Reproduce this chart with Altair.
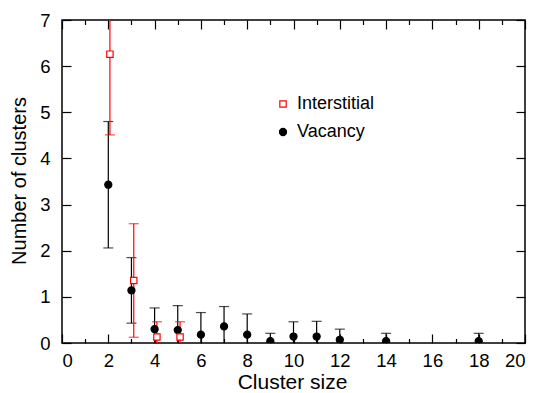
import altair as alt
import pandas as pd

# Vacancy clusters: size, mean count, error
vac_size = [2, 3, 4, 5, 6, 7, 8, 9, 10, 11, 12, 14, 18]
vac_count = [3.43, 1.14, 0.30, 0.28, 0.18, 0.36, 0.18, 0.04, 0.14, 0.14, 0.07, 0.04, 0.04]
vac_err = [1.37, 0.71, 0.46, 0.53, 0.48, 0.43, 0.45, 0.17, 0.32, 0.33, 0.23, 0.17, 0.17]

# Interstitial clusters (slightly shifted in size so bars don't overlap)
int_size = [2.07, 3.1, 4.1, 5.1]
int_count = [6.26, 1.355, 0.13, 0.13]
int_err = [1.75, 1.23, 0.33, 0.33]

series_names = ["Interstitial", "Vacancy"]
x_major = list(range(0, 21, 2))
x_minor = list(range(1, 20, 2))
y_major = list(range(0, 8))

W, H = 463, 323
FONT = "Liberation Sans"


def frame(sizes, counts, errs, name):
    df = pd.DataFrame({"size": sizes, "count": counts, "err": errs})
    df["lo"] = df["count"] - df["err"]
    df["hi"] = df["count"] + df["err"]
    df["series"] = name
    return df


vac = frame(vac_size, vac_count, vac_err, "Vacancy")
inter = frame(int_size, int_count, int_err, "Interstitial")
points = pd.concat([vac, inter], ignore_index=True)

xs = alt.Scale(domain=[0, 20], nice=False, zero=False)
ys = alt.Scale(domain=[0, 7], nice=False, zero=False)

x_label_axis = alt.Axis(
    values=x_major, ticks=False, tickSize=0, domain=False, grid=False,
    labelFontSize=18.5, labelPadding=8, labelFont=FONT, labelColor="black",
    title="Cluster size", titleFontSize=21, titleFont=FONT, titleFontWeight="normal",
    titleColor="black", titleX=230, titleY=45.5, titleBaseline="alphabetic",
)
y_label_axis = alt.Axis(
    values=y_major, ticks=False, tickSize=0, domain=False, grid=False,
    labelFontSize=18.5, labelPadding=12, labelFont=FONT, labelColor="black",
    title="Number of clusters", titleFontSize=20, titleFont=FONT,
    titleFontWeight="normal", titleColor="black", titleX=-37, titleY=160.5,
    titleAngle=-90, titleBaseline="alphabetic", titleAlign="center",
)


def tick_axis(orient, values, size, offset):
    return alt.Axis(
        orient=orient, offset=offset, values=values, tickSize=size,
        tickWidth=1.2, tickColor="black", labels=False, domain=False,
        grid=False, title=None,
    )


def error_bars(df, color, label_axes=False):
    xa = x_label_axis if label_axes else None
    ya = y_label_axis if label_axes else None
    rule = alt.Chart(df).mark_rule(color=color, strokeWidth=1.2, clip=True).encode(
        x=alt.X("size:Q", scale=xs, axis=xa),
        y=alt.Y("lo:Q", scale=ys, axis=ya),
        y2="hi:Q",
    )
    caps = [
        alt.Chart(df).mark_tick(
            orient="horizontal", color=color, size=10, thickness=1.2, clip=True
        ).encode(
            x=alt.X("size:Q", scale=xs, axis=None),
            y=alt.Y(f"{end}:Q", scale=ys, axis=None),
        )
        for end in ("lo", "hi")
    ]
    return [rule] + caps


legend = alt.Legend(
    orient="none", legendX=212, legendY=75, title=None, padding=0,
    labelFontSize=18, labelFont=FONT, labelColor="black", labelOffset=5,
    symbolStrokeWidth=1.2, rowPadding=10,
)

markers = alt.Chart(points).mark_point(filled=False, opacity=1, strokeWidth=1.2, clip=True).encode(
    x=alt.X("size:Q", scale=xs, axis=None),
    y=alt.Y("count:Q", scale=ys, axis=None),
    shape=alt.Shape("series:N", scale=alt.Scale(domain=series_names, range=["square", "circle"]), legend=legend),
    fill=alt.Fill("series:N", scale=alt.Scale(domain=series_names, range=["white", "black"]), legend=legend),
    stroke=alt.Stroke("series:N", scale=alt.Scale(domain=series_names, range=["#ff0000", "black"]), legend=legend),
    size=alt.Size("series:N", scale=alt.Scale(domain=series_names, range=[40, 50]), legend=legend),
)

# invisible layers that carry the inward-pointing tick marks on all four sides
dummy = alt.Chart(vac).mark_point(opacity=0)
tick_layers = [
    dummy.encode(
        x=alt.X("size:Q", scale=xs, axis=tick_axis("top", x_major, 9, -H)),
        y=alt.Y("count:Q", scale=ys, axis=tick_axis("right", y_major, 9, -W)),
    ),
    dummy.encode(
        x=alt.X("size:Q", scale=xs, axis=tick_axis("top", x_minor, 4.5, -H)),
        y=alt.Y("count:Q", scale=ys, axis=tick_axis("left", y_major, 9, -W)),
    ),
    dummy.encode(
        x=alt.X("size:Q", scale=xs, axis=tick_axis("bottom", x_major, 9, -H)),
        y=alt.Y("count:Q", scale=ys, axis=None),
    ),
    dummy.encode(
        x=alt.X("size:Q", scale=xs, axis=tick_axis("bottom", x_minor, 4.5, -H)),
        y=alt.Y("count:Q", scale=ys, axis=None),
    ),
]

layers = (
    error_bars(vac, "black", label_axes=True)
    + error_bars(inter, "#ff0000")
    + [markers]
    + tick_layers
)

chart = (
    alt.layer(*layers)
    .resolve_axis(x="independent", y="independent")
    .properties(
        width=W, height=H, background="white",
        autosize=alt.AutoSizeParams(type="none"),
        padding={"left": 62, "top": 20, "right": 12, "bottom": 50},
    )
    .configure_view(stroke="black", strokeWidth=1.5)
)

chart.save("out.html", embed_options={"renderer": "svg", "actions": False})
